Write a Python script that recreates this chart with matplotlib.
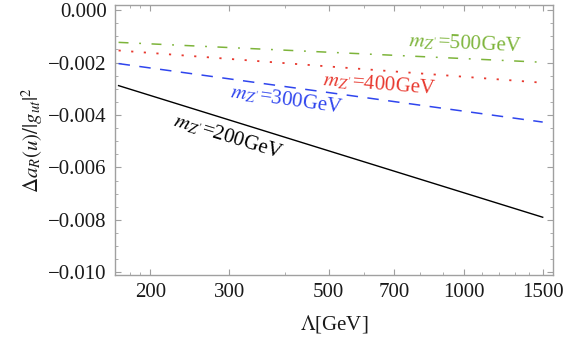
import matplotlib.pyplot as plt
import numpy as np
from matplotlib.ticker import FixedLocator, NullFormatter, MultipleLocator

plt.rcParams['font.family'] = 'Liberation Serif'
plt.rcParams['mathtext.fontset'] = 'stix'

# cutoff scale (GeV) at the ends of each curve
lam = [170, 1500]

# Delta a_R(u)/|g_ut|^2 for each Z' mass
mz200 = [-0.00288, -0.00790]
mz300 = [-0.00204, -0.00427]
mz400 = [-0.00154, -0.00277]
mz500 = [-0.00123, -0.00199]

xticks = [200, 300, 500, 700, 1000, 1500]
xminor = [180, 190, 400, 600, 800, 900, 1100, 1200, 1300, 1400]

green = '#7db43a'
red = '#e8382e'
blue = '#2f45ee'

fig = plt.figure(figsize=(5.67, 3.48), dpi=100)
ax = fig.add_axes([0.203, 0.210, 0.772, 0.776])

ax.plot(lam, mz500, color=green, lw=1.1, dashes=(6.5, 7, 1.2, 6.9))
ax.plot(lam, mz400, color=red, lw=1.3, dashes=(1.2, 5.8))
ax.plot(lam, mz300, color=blue, lw=1.1, dashes=(7.5, 6.2))
ax.plot(lam, mz200, color='black', lw=1.0)

# curve labels, rotated along each line
kw = dict(fontsize=15, ha='center', va='center', rotation_mode='anchor')
ax.text(298, -0.00482, r"$m_{Z'}$=200GeV", color='black', rotation=-17, **kw)
ax.text(402, -0.00341, r"$m_{Z'}$=300GeV", color=blue, rotation=-8, **kw)
ax.text(650, -0.00284, r"$m_{Z'}$=400GeV", color=red, rotation=-4.5, **kw)
ax.text(1006, -0.00128, r"$m_{Z'}$=500GeV", color=green, rotation=-2.7, **kw)

ax.set_xscale('log')
ax.set_xlim(167, 1580)
ax.set_ylim(-0.0101, 0.0002)

ax.xaxis.set_major_locator(FixedLocator(xticks))
ax.xaxis.set_minor_locator(FixedLocator(xminor))
ax.xaxis.set_minor_formatter(NullFormatter())
ax.set_xticklabels([str(t) for t in xticks])
ax.yaxis.set_minor_locator(MultipleLocator(0.0005))
ax.set_yticks(np.arange(-0.010, 0.0001, 0.002))
ax.set_yticklabels(['\u22120.010', '\u22120.008', '\u22120.006', '\u22120.004',
                    '\u22120.002', '0.000'])

for s in ax.spines.values():
    s.set_color('#a0a0a0')
    s.set_linewidth(1.0)
ax.tick_params(which='both', direction='in', top=True, right=True,
               color='#a0a0a0', labelsize=15, labelcolor='#1a1a1a')
ax.tick_params(which='major', length=4, width=0.8, pad=6)
ax.tick_params(which='minor', length=2, width=0.6)

ax.set_xlabel(r'$\Lambda$[GeV]', fontsize=15, color='#1a1a1a', labelpad=8)
ax.set_ylabel(r'$\Delta a_R(u)/|g_{ut}|^2$', fontsize=15, color='#1a1a1a', labelpad=2)

fig.savefig('out.png', dpi=100)
